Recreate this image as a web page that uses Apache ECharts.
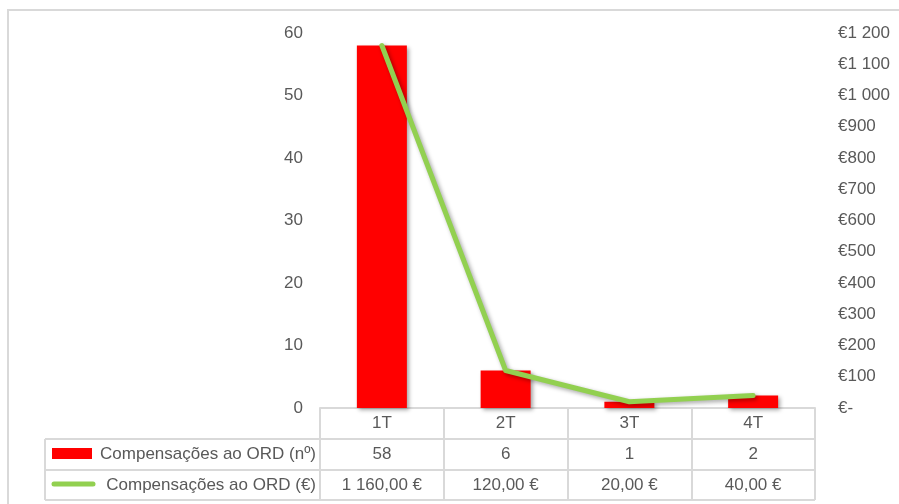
<!DOCTYPE html>
<html>
<head>
<meta charset="utf-8">
<script src="https://cdn.jsdelivr.net/npm/echarts@6/dist/echarts.min.js"></script>
<style>
  html, body { margin: 0; padding: 0; background: #fff; }
  #chart { width: 899px; height: 504px; }
</style>
</head>
<body>
<div id="chart"></div>
<script>
// Quarterly data
const quarters = ['1T', '2T', '3T', '4T'];
const countName = 'Compensações ao ORD (nº)';
const amountName = 'Compensações ao ORD (€)';
const counts = [58, 6, 1, 2];
const amounts = [1160, 120, 20, 40];

const countTicks = { min: 0, max: 60, interval: 10 };
const amountTicks = { min: 0, max: 1200, interval: 100 };

const TEXT = '#595959';
const LINE = '#d9d9d9';
const RED = '#ff0000';
const GREEN = '#92d050';
const FONT = 'Liberation Sans, sans-serif';
const FS = 17;

// layout
const G = { left: 320, right: 84, top: 33, bottom: 96 };
const W = 899, H = 504;
const tableLeft = 45;
const rowH = 31;

function groupThousands(n) {
  return String(n).replace(/\B(?=(\d{3})+(?!\d))/g, ' ');
}
function euroAxis(v) {
  return v === 0 ? '€-' : '€' + groupThousands(v);
}
function euroCell(v) {
  return groupThousands(v) + ',00 €';
}

const chart = echarts.init(document.getElementById('chart'), null, { renderer: 'canvas' });

const shadow = { shadowColor: 'rgba(0,0,0,0.35)', shadowBlur: 4, shadowOffsetX: 2, shadowOffsetY: 2 };

const axisY = G.top + (H - G.top - G.bottom);
const tableBottom = axisY + rowH * 3 - 1;

const graphics = [
  // chart frame
  { type: 'rect', shape: { x: 8, y: 10, width: 900, height: 520 }, style: { fill: 'none', stroke: LINE, lineWidth: 2 }, silent: true },
  // table rows (horizontal rules)
  ...[1, 2, 3].map(i => ({
    type: 'line', shape: { x1: tableLeft, y1: axisY + rowH * i - (i === 3 ? 1 : 0), x2: W - G.right, y2: axisY + rowH * i - (i === 3 ? 1 : 0) },
    style: { stroke: LINE, lineWidth: 2 }, silent: true
  })),
  // left edge of the series rows
  { type: 'line', shape: { x1: tableLeft, y1: axisY + rowH, x2: tableLeft, y2: tableBottom }, style: { stroke: LINE, lineWidth: 2 }, silent: true },
  // legend keys
  { type: 'rect', shape: { x: 52, y: axisY + rowH + 9, width: 40, height: 11 }, style: { fill: RED }, silent: true },
  { type: 'line', shape: { x1: 54, y1: axisY + rowH * 2 + 14, x2: 93, y2: axisY + rowH * 2 + 14 }, style: { stroke: GREEN, lineWidth: 5, lineCap: 'round' }, silent: true },
  // row titles
  { type: 'text', style: { x: 316, y: axisY + rowH * 1.5, text: countName, align: 'right', verticalAlign: 'middle', fill: TEXT, font: FS + 'px ' + FONT }, silent: true },
  { type: 'text', style: { x: 316, y: axisY + rowH * 2.5, text: amountName, align: 'right', verticalAlign: 'middle', fill: TEXT, font: FS + 'px ' + FONT }, silent: true }
];

chart.setOption({
  animation: false,
  backgroundColor: '#fff',
  textStyle: { fontFamily: FONT },
  grid: { left: G.left, right: G.right, top: G.top, bottom: G.bottom, containLabel: false },
  xAxis: {
    type: 'category',
    data: quarters,
    boundaryGap: true,
    axisLine: { show: true, lineStyle: { color: LINE, width: 2 } },
    axisTick: { show: true, length: rowH * 3 - 1, inside: false, alignWithLabel: false, lineStyle: { color: LINE, width: 2 } },
    splitLine: { show: false },
    axisLabel: {
      margin: 0,
      interval: 0,
      color: TEXT,
      fontSize: FS,
      lineHeight: rowH,
      formatter: (val, idx) => [val, String(counts[idx]), euroCell(amounts[idx])].join('\n')
    }
  },
  yAxis: [
    {
      type: 'value',
      min: countTicks.min, max: countTicks.max, interval: countTicks.interval,
      axisLine: { show: false }, axisTick: { show: false }, splitLine: { show: false },
      axisLabel: { color: TEXT, fontSize: FS, margin: 17 }
    },
    {
      type: 'value',
      position: 'right',
      min: amountTicks.min, max: amountTicks.max, interval: amountTicks.interval,
      axisLine: { show: false }, axisTick: { show: false }, splitLine: { show: false },
      axisLabel: { color: TEXT, fontSize: FS, margin: 23, align: 'left', formatter: euroAxis }
    }
  ],
  series: [
    {
      name: countName,
      type: 'bar',
      data: counts,
      yAxisIndex: 0,
      barWidth: 50,
      itemStyle: Object.assign({ color: RED }, shadow)
    },
    {
      name: amountName,
      type: 'line',
      data: amounts,
      yAxisIndex: 1,
      symbol: 'none',
      lineStyle: Object.assign({ color: GREEN, width: 5, cap: 'round', join: 'round' }, shadow),
      z: 3
    }
  ],
  graphic: graphics
});
</script>
</body>
</html>
